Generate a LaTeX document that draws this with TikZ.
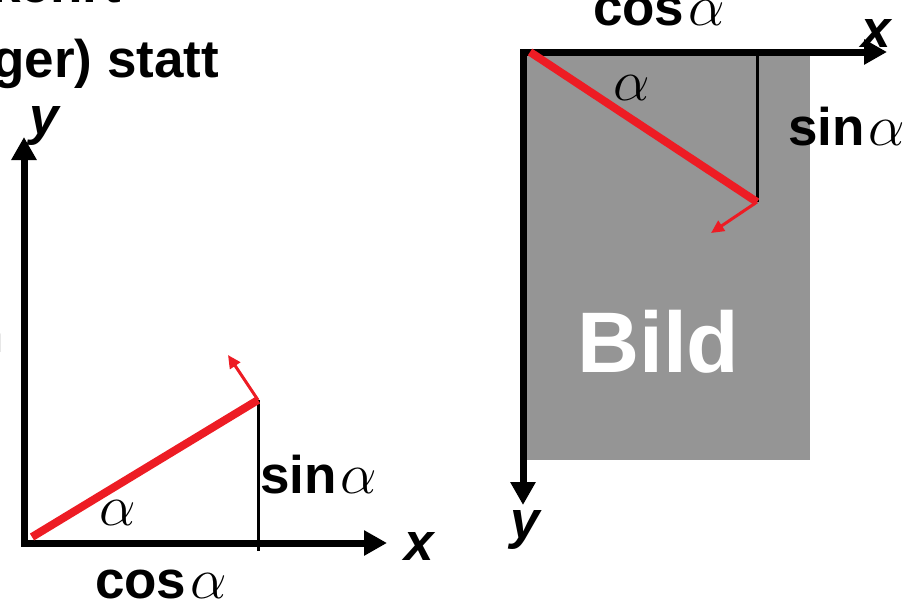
\RequirePackage{fix-cm}
\documentclass[tikz,border=0pt]{standalone}
\usepackage{fontspec}
\setmainfont{Liberation Sans}
\newcommand{\alf}{{\fontsize{58}{60}\selectfont$\alpha$}}
\usetikzlibrary{arrows.meta}
\definecolor{vred}{HTML}{ED1C24}
\definecolor{bildgray}{HTML}{959595}
\tikzset{
  axis/.style={line width=7pt, line join=miter, {Triangle[length=23pt,width=24pt]}-{Triangle[length=23pt,width=24pt]}},
  vec/.style={draw=vred, line width=8pt},
  normvec/.style={draw=vred, line width=3pt, -{Triangle[length=13pt,width=12pt]}},
  proj/.style={draw=black, line width=3pt},
  lbl/.style={inner sep=0pt, outer sep=0pt, font=\fontsize{53}{60}\selectfont\bfseries},
  axlbl/.style={inner sep=0pt, outer sep=0pt, font=\fontsize{53}{60}\selectfont\bfseries\itshape},
  angl/.style={inner sep=0pt, outer sep=0pt},
  bild/.style={inner sep=0pt, outer sep=0pt, text=white, font=\fontsize{86}{90}\selectfont\bfseries}
}
\begin{document}
\begin{tikzpicture}[x=1pt, y=-1pt]
\useasboundingbox (0,0) rectangle (912,600);
\clip (0,0) rectangle (912,600);
% clipped slide text
\node[lbl, anchor=base east] (t1) at (121,2) {umgekehrt};
\node[lbl, anchor=base east] (t2) at (219,77) {(Uhrzeiger) statt};
\node[lbl, anchor=base east] (t3) at (4,352) {n};
% ---------- left: mathematical system ----------
\coordinate (O1) at (24,543);
\coordinate (Y1) at (24,137);
\coordinate (X1) at (387,543);
\coordinate (S1) at (32,537);
\coordinate (P1) at (258,400);
\coordinate (F1) at (258,551);
\coordinate (N1) at (228,355);
\draw[axis] (Y1) -- (O1) -- (X1);
\draw[proj] (P1) -- (F1);
\draw[vec] (S1) -- (P1);
\draw[normvec] (P1) -- (N1);
\node[axlbl, anchor=base west] (ly1) at (29,134) {y};
\node[axlbl, anchor=base west] (lx1) at (404,560) {x};
\node[lbl, anchor=base west] (sin1) at (260,493) {sin\kern4pt\alf};
\node[lbl, anchor=base west] (cos1) at (95,598) {cos\kern4pt\alf};
\node[angl, anchor=base west] (a1) at (99,525) {\alf};
% ---------- right: image system ----------
\fill[bildgray] (525,52) rectangle (810,460);
\node[bild, anchor=base west] (bild) at (577,372) {Bild};
\coordinate (O2) at (523,52);
\coordinate (X2) at (887,52);
\coordinate (Y2) at (523,505);
\coordinate (S2) at (530,52);
\coordinate (P2) at (757,202);
\coordinate (T2) at (757,52);
\coordinate (N2) at (711,233);
\draw[axis] (X2) -- (O2) -- (Y2);
\draw[proj] (T2) -- (P2);
\draw[vec] (S2) -- (P2);
\draw[normvec] (P2) -- (N2);
\node[axlbl, anchor=base west] (lx2) at (861,47) {x};
\node[axlbl, anchor=base west] (ly2) at (510,538) {y};
\node[lbl, anchor=base west] (cos2) at (593,25) {cos\kern4pt\alf};
\node[lbl, anchor=base west] (sin2) at (788,145) {sin\kern4pt\alf};
\node[angl, anchor=base west] (a2) at (613,100) {\alf};
\end{tikzpicture}
\end{document}
